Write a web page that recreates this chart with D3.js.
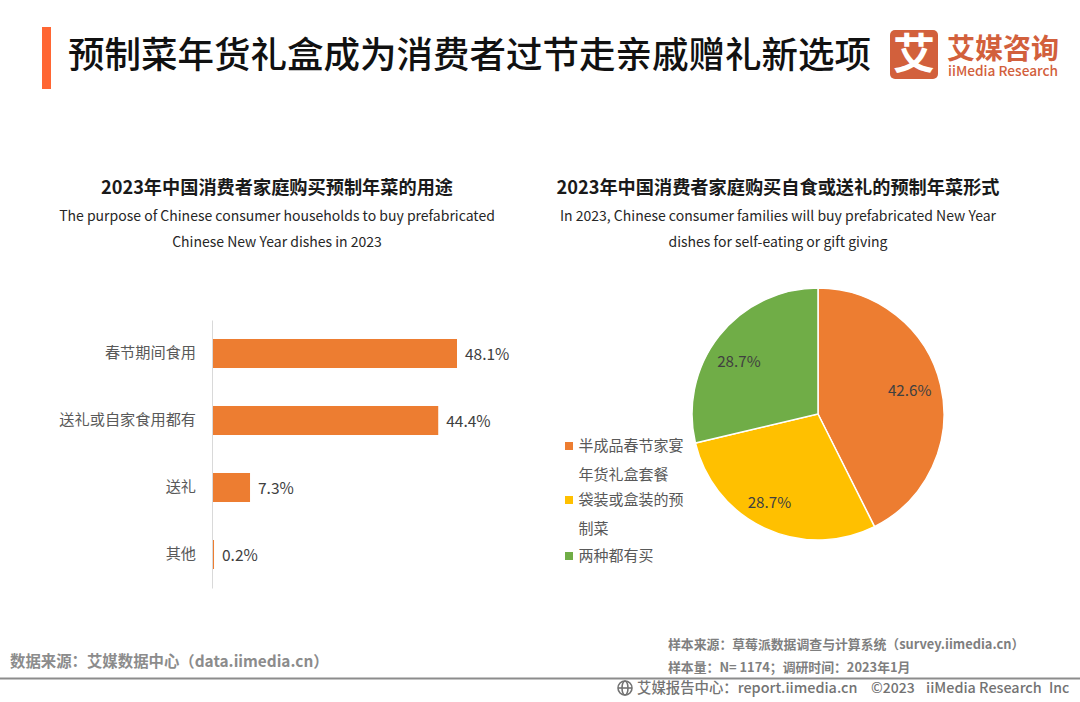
<!DOCTYPE html>
<html>
<head>
<meta charset="utf-8">
<script src="https://cdn.jsdelivr.net/npm/d3@7"></script>
<style>
  html, body { margin: 0; padding: 0; background: #fff; }
  text { font-family: "Noto Sans CJK SC", "Noto Sans", sans-serif; }
</style>
</head>
<body>
<div id="chart"></div>
<script>
var svgWidth = 1080;
var svgHeight = 702;

var title = "预制菜年货礼盒成为消费者过节走亲戚赠礼新选项";

var barTitle = "2023年中国消费者家庭购买预制年菜的用途";
var barSubtitle = ["The purpose of Chinese consumer households to buy prefabricated", "Chinese New Year dishes in 2023"];
var barCategories = ["春节期间食用", "送礼或自家食用都有", "送礼", "其他"];
var barValues = [48.1, 44.4, 7.3, 0.2];

var pieTitle = "2023年中国消费者家庭购买自食或送礼的预制年菜形式";
var pieSubtitle = ["In 2023, Chinese consumer families will buy prefabricated New Year", "dishes for self-eating or gift giving"];
var pieLegendLines = [["半成品春节家宴", "年货礼盒套餐"], ["袋装或盒装的预", "制菜"], ["两种都有买"]];
var pieValues = [42.6, 28.7, 28.7];
var pieColors = ["#ed7d31", "#ffc000", "#70ad47"];

var svg = d3.select("#chart")
  .append("svg")
  .attr("width", svgWidth)
  .attr("height", svgHeight)
  .style("display", "block");

// header
svg.append("rect")
  .attr("x", 42).attr("y", 27)
  .attr("width", 9).attr("height", 62)
  .attr("fill", "#ff6633");

svg.append("text")
  .attr("x", 68).attr("y", 68)
  .attr("font-size", 36.5)
  .attr("font-weight", 500)
  .attr("fill", "#111")
  .text(title);

// logo
var logoColor = "#d2603c";
svg.append("rect")
  .attr("x", 890).attr("y", 30)
  .attr("width", 48).attr("height", 49)
  .attr("rx", 5)
  .attr("fill", logoColor);
svg.append("text")
  .attr("x", 914).attr("y", 69)
  .attr("text-anchor", "middle")
  .attr("font-size", 42)
  .attr("font-weight", 700)
  .attr("fill", "#fff")
  .text("艾");
svg.append("text")
  .attr("x", 947).attr("y", 59)
  .attr("font-size", 28)
  .attr("font-weight", 700)
  .attr("fill", logoColor)
  .text("艾媒咨询");
svg.append("text")
  .attr("x", 948).attr("y", 76)
  .attr("font-size", 13.7)
  .attr("font-weight", 500)
  .attr("fill", logoColor)
  .text("iiMedia Research");

// panel headings
function panelHeading(cx, head, lines) {
  svg.append("text")
    .attr("x", cx).attr("y", 194)
    .attr("text-anchor", "middle")
    .attr("font-size", 18.2)
    .attr("font-weight", 700)
    .attr("fill", "#1a1a1a")
    .text(head);
  lines.forEach(function(line, i) {
    svg.append("text")
      .attr("x", cx).attr("y", 221 + i * 26)
      .attr("text-anchor", "middle")
      .attr("font-size", 14)
      .attr("fill", "#262626")
      .text(line);
  });
}
panelHeading(277, barTitle, barSubtitle);
panelHeading(778, pieTitle, pieSubtitle);

// bar chart
var xScale = d3.scaleLinear()
  .domain([0, 48.1])
  .range([213, 457]);

var yScale = d3.scaleBand()
  .domain(barCategories)
  .range([320, 588])
  .paddingInner(0.567)
  .paddingOuter(0.2835);

var leftAxis = d3.axisLeft(yScale).tickSize(0).tickPadding(16);

// axis line sits just left of the bars so the 0.2% sliver stays visible
var axisGroup = svg.append("g")
  .attr("transform", "translate(212, 0)")
  .call(leftAxis);
axisGroup.select(".domain").attr("stroke", "#d9d9d9").attr("stroke-width", 1);
axisGroup.selectAll("text")
  .attr("font-size", 15.2)
  .attr("font-family", '"Noto Sans CJK SC", sans-serif')
  .attr("fill", "#595959");

svg.selectAll(".bar")
  .data(barValues)
  .enter()
  .append("rect")
  .attr("class", "bar")
  .attr("x", xScale(0))
  .attr("y", function(d, i) { return yScale(barCategories[i]); })
  .attr("width", function(d) { return xScale(d) - xScale(0); })
  .attr("height", yScale.bandwidth())
  .attr("fill", "#ed7d31");

svg.selectAll(".bar-label")
  .data(barValues)
  .enter()
  .append("text")
  .attr("class", "bar-label")
  .attr("x", function(d) { return xScale(d) + 8; })
  .attr("y", function(d, i) { return yScale(barCategories[i]) + yScale.bandwidth() / 2 + 6; })
  .attr("font-size", 15.5)
  .attr("fill", "#404040")
  .text(function(d) { return d.toFixed(1) + "%"; });

// pie chart
var pieCx = 818;
var pieCy = 414;
var pieRadius = 126;

var pie = d3.pie().sort(null).value(function(d) { return d; });
var arc = d3.arc().innerRadius(0).outerRadius(pieRadius);
var labelArc = d3.arc().innerRadius(pieRadius * 0.78).outerRadius(pieRadius * 0.78);

var pieGroup = svg.append("g")
  .attr("transform", `translate(${pieCx}, ${pieCy})`);

pieGroup.selectAll("path")
  .data(pie(pieValues))
  .enter()
  .append("path")
  .attr("d", arc)
  .attr("fill", function(d, i) { return pieColors[i]; })
  .attr("stroke", "#fff")
  .attr("stroke-width", 1.5);

// labels are not quite on the centroid ring in the original
var labelShift = [[-4, -1], [-7, 0], [-2, 9]];

pieGroup.selectAll(".pie-label")
  .data(pie(pieValues))
  .enter()
  .append("text")
  .attr("class", "pie-label")
  .attr("transform", function(d, i) {
    var c = labelArc.centroid(d);
    return `translate(${c[0] + labelShift[i][0]}, ${c[1] + labelShift[i][1]})`;
  })
  .attr("dy", "0.35em")
  .attr("text-anchor", "middle")
  .attr("font-size", 15.2)
  .attr("fill", "#404040")
  .text(function(d) { return d.value.toFixed(1) + "%"; });

// legend
var legendRowY = [446, 500, 556];
pieLegendLines.forEach(function(lines, i) {
  svg.append("rect")
    .attr("x", 565).attr("y", legendRowY[i] - 4)
    .attr("width", 8).attr("height", 8)
    .attr("fill", pieColors[i]);
  lines.forEach(function(line, j) {
    svg.append("text")
      .attr("x", 578.5).attr("y", legendRowY[i] + 5 + j * 29)
      .attr("font-size", 15)
      .attr("fill", "#595959")
      .text(line);
  });
});

// footer
svg.append("text")
  .attr("x", 10).attr("y", 667)
  .attr("font-size", 15.4)
  .attr("font-weight", 700)
  .attr("fill", "#8c8c8c")
  .text("数据来源：艾媒数据中心（data.iimedia.cn）");

svg.append("text")
  .attr("x", 668).attr("y", 649)
  .attr("font-size", 12.85)
  .attr("font-weight", 700)
  .attr("fill", "#7f7f7f")
  .text("样本来源：草莓派数据调查与计算系统（survey.iimedia.cn）");
svg.append("text")
  .attr("x", 668).attr("y", 672)
  .attr("font-size", 12.85)
  .attr("font-weight", 700)
  .attr("fill", "#7f7f7f")
  .text("样本量：N= 1174；调研时间：2023年1月");

svg.append("rect")
  .attr("x", 0).attr("y", 677.5)
  .attr("width", svgWidth).attr("height", 2)
  .attr("fill", "#8c8c8c");

// small globe mark in the footer
var globe = svg.append("g")
  .attr("transform", "translate(625, 688)")
  .attr("fill", "none")
  .attr("stroke", "#737373")
  .attr("stroke-width", 1.6);
globe.append("circle").attr("r", 7);
globe.append("ellipse").attr("rx", 3).attr("ry", 7);
globe.append("line").attr("x1", -7).attr("x2", 7);

svg.append("text")
  .attr("x", 637).attr("y", 693)
  .attr("font-size", 14.4)
  .attr("font-weight", 500)
  .attr("fill", "#737373")
  .text("艾媒报告中心：report.iimedia.cn");
svg.append("text")
  .attr("x", 871).attr("y", 693)
  .attr("font-size", 14)
  .attr("font-weight", 500)
  .attr("fill", "#737373")
  .text("©2023");
svg.append("text")
  .attr("x", 926).attr("y", 693)
  .attr("font-size", 14.4)
  .attr("font-weight", 500)
  .attr("fill", "#737373")
  .text("iiMedia Research");
svg.append("text")
  .attr("x", 1049).attr("y", 693)
  .attr("font-size", 14)
  .attr("font-weight", 500)
  .attr("fill", "#737373")
  .text("Inc");
</script>
</body>
</html>
